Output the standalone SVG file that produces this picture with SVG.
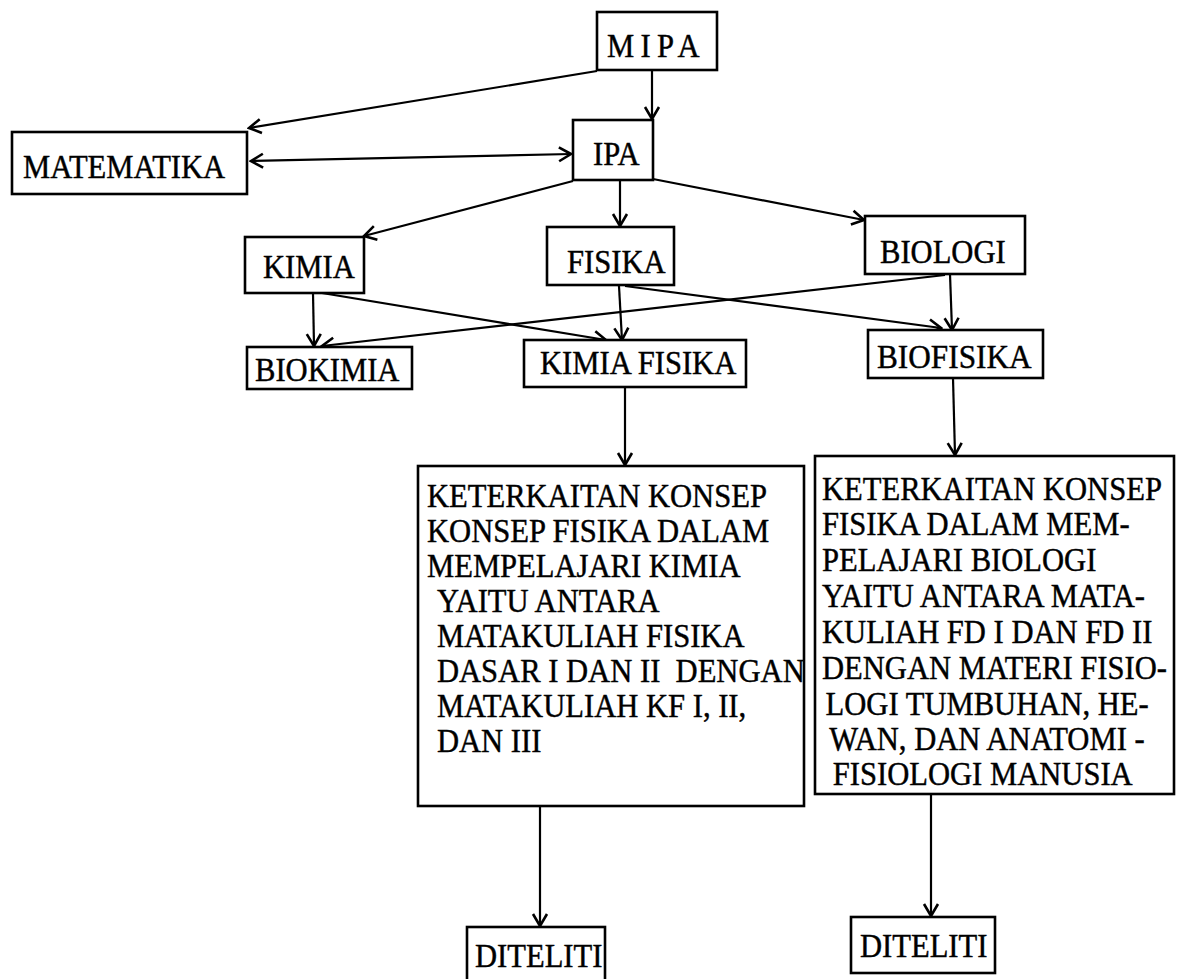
<svg xmlns="http://www.w3.org/2000/svg" width="1177" height="979" viewBox="0 0 1177 979">
<defs>
<style>
.box{fill:#fff;stroke:#000;stroke-width:2.6}
text{font-family:"Liberation Serif","Times New Roman",serif;font-size:34px;fill:#000;stroke:#000;stroke-width:0.45}
.con{fill:none;stroke:#000;stroke-width:2.2}
</style>
<marker id="ah" viewBox="-14 -9 16 18" refX="0" refY="0" markerWidth="16" markerHeight="18" markerUnits="userSpaceOnUse" orient="auto-start-reverse">
<path d="M-12,-7 L0,0 L-12,7" fill="none" stroke="#000" stroke-width="2.6" stroke-linejoin="miter"/>
</marker>
</defs>
<rect width="1177" height="979" fill="#fff"/>

<g id="connectors">
<line class="con" x1="597" y1="71" x2="249" y2="128" marker-end="url(#ah)"/>
<line class="con" x1="652" y1="70" x2="652" y2="119" marker-end="url(#ah)"/>
<line class="con" x1="251" y1="161" x2="571" y2="154" marker-start="url(#ah)" marker-end="url(#ah)"/>
<line class="con" x1="573" y1="181" x2="364" y2="236" marker-end="url(#ah)"/>
<line class="con" x1="620" y1="181" x2="620" y2="226" marker-end="url(#ah)"/>
<line class="con" x1="653" y1="179" x2="864" y2="220" marker-end="url(#ah)"/>
<line class="con" x1="313" y1="293" x2="314" y2="346" marker-end="url(#ah)"/>
<line class="con" x1="322" y1="293" x2="606" y2="340" marker-end="url(#ah)"/>
<line class="con" x1="619" y1="286" x2="622" y2="340" marker-end="url(#ah)"/>
<line class="con" x1="625" y1="286" x2="941" y2="328" marker-end="url(#ah)"/>
<line class="con" x1="945" y1="275" x2="322" y2="346" marker-end="url(#ah)"/>
<line class="con" x1="950" y1="274" x2="952" y2="330" marker-end="url(#ah)"/>
<line class="con" x1="625" y1="388" x2="625" y2="465" marker-end="url(#ah)"/>
<line class="con" x1="953" y1="378" x2="955" y2="455" marker-end="url(#ah)"/>
<line class="con" x1="540" y1="806" x2="540" y2="926" marker-end="url(#ah)"/>
<line class="con" x1="931" y1="795" x2="931" y2="916" marker-end="url(#ah)"/>
</g>

<g id="mipa"><rect class="box" x="597" y="12" width="120" height="58"/><text transform="translate(607,57) scale(0.9,1)" letter-spacing="7">MIPA</text></g>
<g id="ipa"><rect class="box" x="573" y="120" width="80" height="60"/><text transform="translate(593,165) scale(0.9,1)">IPA</text></g>
<g id="matematika"><rect class="box" x="12" y="132" width="235" height="62"/><text transform="translate(23,178) scale(0.9,1)">MATEMATIKA</text></g>
<g id="kimia"><rect class="box" x="245" y="237" width="119" height="56"/><text transform="translate(263,278) scale(0.9,1)">KIMIA</text></g>
<g id="fisika"><rect class="box" x="547" y="227" width="127" height="58"/><text transform="translate(567,273) scale(0.9,1)">FISIKA</text></g>
<g id="biologi"><rect class="box" x="865" y="216" width="160" height="58"/><text transform="translate(880,263) scale(0.9,1)">BIOLOGI</text></g>
<g id="biokimia"><rect class="box" x="247" y="347" width="165" height="42"/><text transform="translate(255,381) scale(0.9,1)">BIOKIMIA</text></g>
<g id="kimiafisika"><rect class="box" x="524" y="340" width="222" height="47"/><text transform="translate(540,374) scale(0.9,1)">KIMIA FISIKA</text></g>
<g id="biofisika"><rect class="box" x="868" y="330" width="175" height="48"/><text transform="translate(877,368) scale(0.92,1)">BIOFISIKA</text></g>

<g id="ket-kimia"><rect class="box" x="418" y="466" width="386" height="340"/>
<g transform="translate(427,0) scale(0.9,1)">
<text x="0" y="507">KETERKAITAN KONSEP</text>
<text x="0" y="542">KONSEP FISIKA DALAM</text>
<text x="0" y="577">MEMPELAJARI KIMIA</text>
<text x="11" y="612">YAITU ANTARA</text>
<text x="11" y="647">MATAKULIAH FISIKA</text>
<text x="11" y="682" xml:space="preserve">DASAR I DAN II  DENGAN</text>
<text x="11" y="717">MATAKULIAH KF I, II,</text>
<text x="11" y="752">DAN III</text>
</g>
</g>
<g id="ket-biologi"><rect class="box" x="815" y="456" width="359" height="338"/>
<g transform="translate(822,0) scale(0.9,1)">
<text x="0" y="500">KETERKAITAN KONSEP</text>
<text x="0" y="535">FISIKA DALAM MEM-</text>
<text x="0" y="571">PELAJARI BIOLOGI</text>
<text x="0" y="607">YAITU ANTARA MATA-</text>
<text x="0" y="643">KULIAH FD I DAN FD II</text>
<text x="0" y="679">DENGAN MATERI FISIO-</text>
<text x="4" y="715">LOGI TUMBUHAN, HE-</text>
<text x="8" y="750">WAN, DAN ANATOMI -</text>
<text x="12" y="785">FISIOLOGI MANUSIA</text>
</g>
</g>
<g id="diteliti1"><rect class="box" x="467" y="927" width="138" height="54"/><text transform="translate(475,967) scale(0.9,1)">DITELITI</text></g>
<g id="diteliti2"><rect class="box" x="851" y="917" width="144" height="56"/><text transform="translate(860,957) scale(0.9,1)">DITELITI</text></g>
</svg>
